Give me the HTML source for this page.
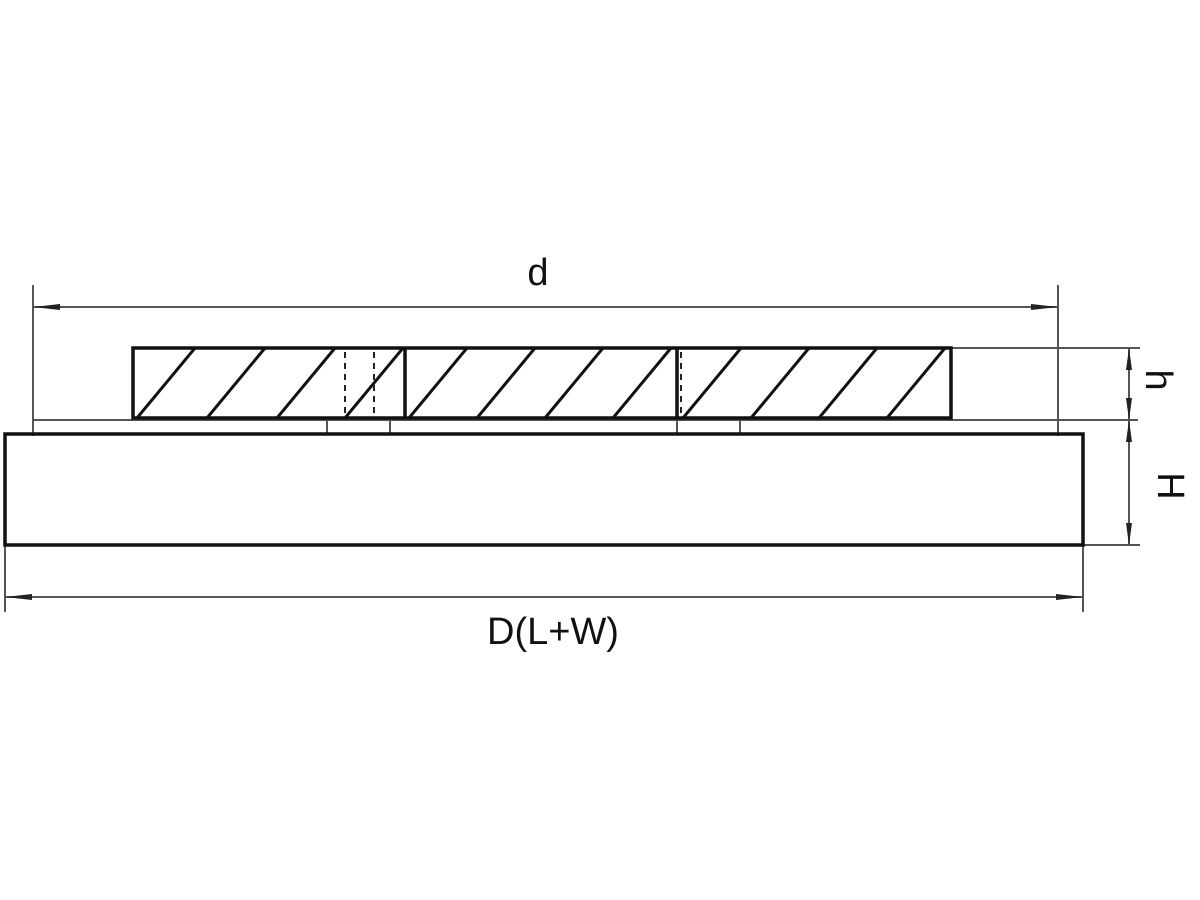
<!DOCTYPE html>
<html><head><style>body{margin:0;background:#fff}svg{display:block}</style></head><body>
<svg width="1200" height="900" xmlns="http://www.w3.org/2000/svg">
<defs><clipPath id="c"><rect x="133" y="348" width="818" height="70"/></clipPath></defs>
<g stroke="#555" stroke-width="2" fill="none">
<line x1="33" y1="285" x2="33" y2="436"/>
<line x1="1058" y1="285" x2="1058" y2="436"/>
<line x1="33" y1="307" x2="1058" y2="307"/>
<line x1="5" y1="545" x2="5" y2="612"/>
<line x1="1083" y1="545" x2="1083" y2="612"/>
<line x1="5" y1="597" x2="1083" y2="597"/>
<line x1="33" y1="420" x2="1058" y2="420"/>
<line x1="951" y1="348" x2="1140" y2="348"/>
<line x1="1058" y1="420" x2="1138" y2="420"/>
<line x1="1083" y1="545" x2="1140" y2="545"/>
<line x1="1129" y1="348" x2="1129" y2="545"/>
<rect x="327" y="420" width="63" height="14"/>
<rect x="677" y="420" width="63" height="14"/>
</g>
<g fill="#222">
<polygon points="33,307 60,304 60,310"/>
<polygon points="1058,307 1031,304 1031,310"/>
<polygon points="5,597 32,594 32,600"/>
<polygon points="1083,597 1056,594 1056,600"/>
<polygon points="1129,348 1126,370 1132,370"/>
<polygon points="1129,420 1126,398 1132,398"/>
<polygon points="1129,420 1126,442 1132,442"/>
<polygon points="1129,545 1126,523 1132,523"/>
</g>
<g clip-path="url(#c)" stroke="#111" stroke-width="3">
<line x1="137" y1="418" x2="195" y2="348"/>
<line x1="207" y1="418" x2="265" y2="348"/>
<line x1="277" y1="418" x2="335" y2="348"/>
<line x1="345" y1="418" x2="403" y2="348"/>
<line x1="409" y1="418" x2="467" y2="348"/>
<line x1="477" y1="418" x2="535" y2="348"/>
<line x1="545" y1="418" x2="603" y2="348"/>
<line x1="613" y1="418" x2="671" y2="348"/>
<line x1="683" y1="418" x2="741" y2="348"/>
<line x1="751" y1="418" x2="809" y2="348"/>
<line x1="819" y1="418" x2="877" y2="348"/>
<line x1="887" y1="418" x2="945" y2="348"/>
</g>
<g stroke="#222" stroke-width="2" stroke-dasharray="6,5">
<line x1="345" y1="352" x2="345" y2="416"/>
<line x1="374" y1="352" x2="374" y2="416"/>
<line x1="681" y1="352" x2="681" y2="416"/>
</g>
<g stroke="#111" stroke-width="3.5" fill="none">
<rect x="133" y="348" width="818" height="70"/>
<line x1="405" y1="348" x2="405" y2="418"/>
<line x1="677" y1="348" x2="677" y2="418"/>
<rect x="5" y="434" width="1078" height="111"/>
</g>
<g font-family="Liberation Sans, sans-serif" font-size="38" fill="#111" text-anchor="middle">
<text x="538" y="285">d</text>
<text x="553" y="644">D(L+W)</text>
<text transform="translate(1146,380) rotate(90)">h</text>
<text transform="translate(1158,486) rotate(90)">H</text>
</g>
</svg>
</body></html>
